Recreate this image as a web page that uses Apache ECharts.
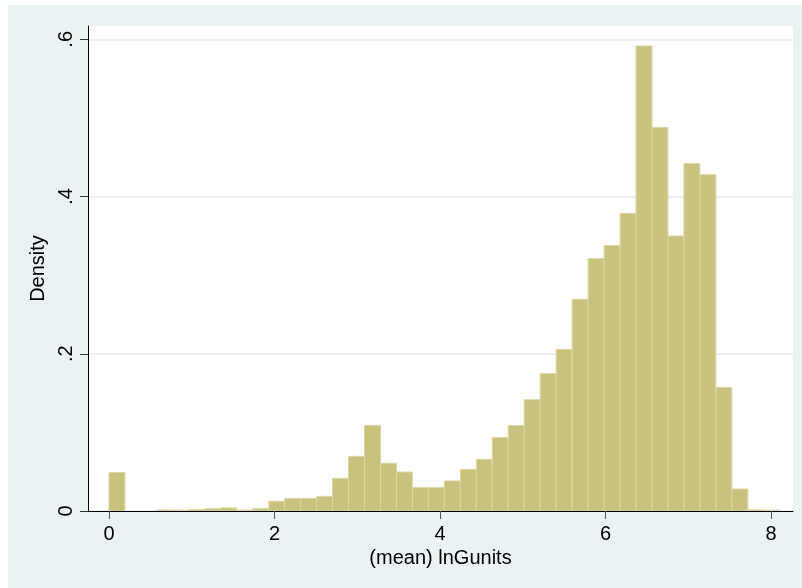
<!DOCTYPE html>
<html>
<head>
<meta charset="utf-8">
<script src="https://cdn.jsdelivr.net/npm/echarts@6/dist/echarts.min.js"></script>
<style>
html,body{margin:0;padding:0;background:#ffffff;}
#chart{position:absolute;left:8px;top:5px;width:794px;height:583px;background:#EAF2F3;}
</style>
</head>
<body>
<div id="chart"></div>
<script>
// Histogram of (mean) lnGunits, 42 bins
const binStart = 0;
const binWidth = 0.193;
const densities = [
  0.049, 0, 0, 0.0013, 0.001, 0.002, 0.003, 0.004, 0.001, 0.003,
  0.0125, 0.016, 0.016, 0.0187, 0.0416, 0.0696, 0.109, 0.0607, 0.0496, 0.0297,
  0.0297, 0.0382, 0.053, 0.0657, 0.0935, 0.1087, 0.1416, 0.1747, 0.2055, 0.2693,
  0.321, 0.3377, 0.3787, 0.5915, 0.488, 0.3498, 0.4418, 0.4278, 0.157, 0.028,
  0.0015, 0.001
];
const xTicks = [0, 2, 4, 6, 8];
const yTicks = [0, 0.2, 0.4, 0.6];
const xTitle = '(mean) lnGunits';
const yTitle = 'Density';

const binData = densities.map((d, i) => [binStart + i * binWidth, binStart + (i + 1) * binWidth, d]);
const FONT = 'Liberation Sans, Arial, Helvetica, sans-serif';

const chart = echarts.init(document.getElementById('chart'));
chart.setOption({
  animation: false,
  backgroundColor: '#EAF2F3',
  grid: {
    left: 80, top: 21, right: 9, bottom: 77,
    show: true, backgroundColor: '#ffffff', borderWidth: 0
  },
  xAxis: {
    type: 'value',
    min: -0.2538, max: 8.266,
    z: 10,
    axisLine: { show: true, onZero: false, lineStyle: { color: '#000', width: 1 } },
    axisTick: { show: true, customValues: xTicks, length: 8, lineStyle: { color: '#555' } },
    axisLabel: { customValues: xTicks, fontSize: 20, color: '#000', fontFamily: FONT, margin: 13 },
    splitLine: { show: false },
    name: xTitle, nameLocation: 'middle', nameGap: 36,
    nameTextStyle: { fontSize: 20, color: '#000', fontFamily: FONT }
  },
  yAxis: {
    type: 'value',
    min: 0, max: 0.6169,
    axisLine: { show: true, onZero: false, lineStyle: { color: '#000', width: 1 } },
    axisTick: { show: true, customValues: yTicks, length: 8, lineStyle: { color: '#333' } },
    axisLabel: {
      customValues: yTicks, rotate: 90, fontSize: 20, color: '#000', fontFamily: FONT, margin: 12,
      formatter: v => { const r = Math.round(v * 10) / 10; return r === 0 ? '0' : String(r).replace(/^0/, ''); }
    },
    splitLine: { show: true, lineStyle: { color: '#EAF2F3', width: 2 } },
    name: yTitle, nameLocation: 'middle', nameGap: 34,
    nameTextStyle: { fontSize: 20, color: '#000', fontFamily: FONT }
  },
  series: [{
    type: 'custom',
    z: 5,
    data: binData,
    encode: { x: [0, 1], y: 2 },
    renderItem: function (params, api) {
      const y = api.value(2);
      if (!(y > 0)) return null;
      const p0 = api.coord([api.value(0), y]);
      const p1 = api.coord([api.value(1), 0]);
      return {
        type: 'rect',
        shape: { x: p0[0], y: p0[1], width: p1[0] - p0[0], height: p1[1] - p0[1] },
        style: { fill: '#C9C27F', stroke: '#DCD7A2', lineWidth: 1 }
      };
    }
  }]
});
</script>
</body>
</html>
